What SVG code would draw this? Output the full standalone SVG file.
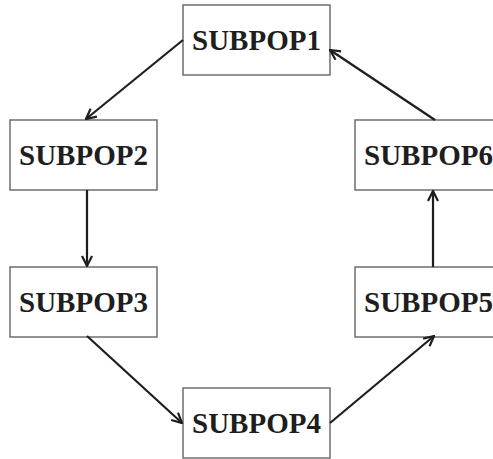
<svg xmlns="http://www.w3.org/2000/svg" width="493" height="459" viewBox="0 0 493 459">
<style>
.box{fill:#fff;stroke:#6e6e6e;stroke-width:1.5}
.lbl{font-family:"Liberation Serif","Times New Roman",serif;font-weight:bold;font-size:29px;fill:#1e1e1e;text-anchor:middle}
.conn{stroke:#1e1e1e;stroke-width:2.2;fill:none;marker-end:url(#ah)}
</style>
<defs>
<marker id="ah" viewBox="0 0 12 12" refX="11" refY="6" markerWidth="12" markerHeight="12" markerUnits="userSpaceOnUse" orient="auto">
<path d="M1,1 L11,6 L1,11" fill="none" stroke="#1e1e1e" stroke-width="2.2"/>
</marker>
</defs>
<rect width="493" height="459" fill="#fff"/>
<g id="n1"><rect class="box" x="183" y="5" width="147" height="70"/><text class="lbl" x="256.5" y="50">SUBPOP1</text></g>
<g id="n2"><rect class="box" x="10" y="120" width="147" height="70"/><text class="lbl" x="83.5" y="165">SUBPOP2</text></g>
<g id="n3"><rect class="box" x="10" y="267" width="147" height="70"/><text class="lbl" x="83.5" y="312">SUBPOP3</text></g>
<g id="n4"><rect class="box" x="183" y="388" width="147" height="70"/><text class="lbl" x="256.5" y="433">SUBPOP4</text></g>
<g id="n5"><rect class="box" x="355" y="267" width="147" height="70"/><text class="lbl" x="428.5" y="312">SUBPOP5</text></g>
<g id="n6"><rect class="box" x="355" y="120" width="147" height="70"/><text class="lbl" x="428.5" y="165">SUBPOP6</text></g>
<g id="connectors">
<line class="conn" x1="183" y1="40" x2="86" y2="119"/>
<line class="conn" x1="87" y1="190" x2="87" y2="266"/>
<line class="conn" x1="87" y1="336" x2="182" y2="423"/>
<line class="conn" x1="330" y1="423" x2="434" y2="336"/>
<line class="conn" x1="433" y1="267" x2="433" y2="191"/>
<line class="conn" x1="435" y1="120" x2="330" y2="50"/>
</g>
</svg>
